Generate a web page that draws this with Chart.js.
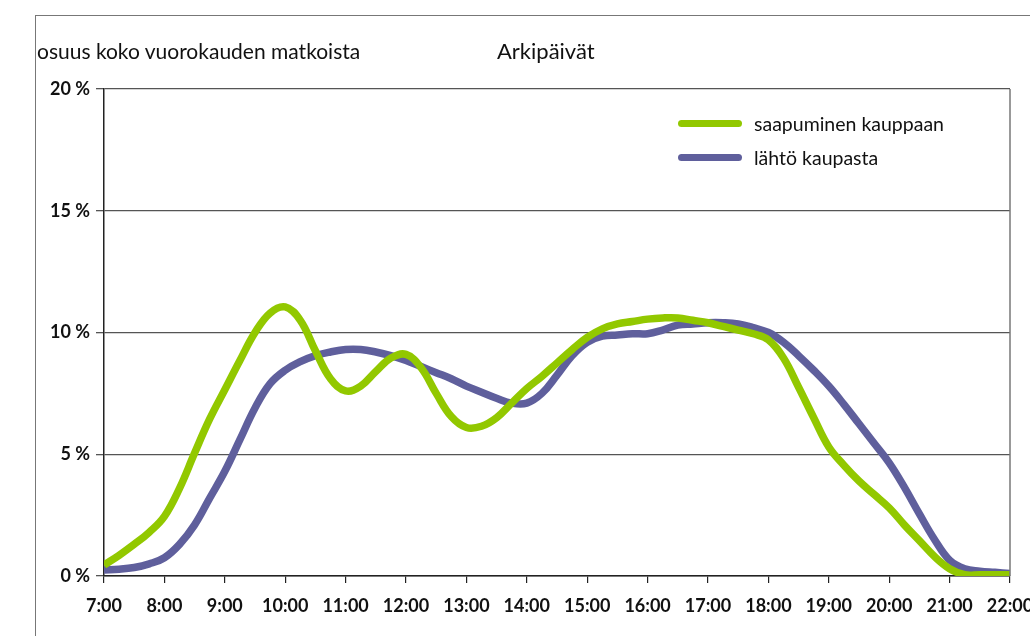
<!DOCTYPE html>
<html>
<head>
<meta charset="utf-8">
<script src="https://cdn.jsdelivr.net/npm/chart.js@4.4.1/dist/chart.umd.min.js"></script>
<style>
  html, body { margin: 0; padding: 0; background: #fff; overflow: hidden; }
  body { width: 1030px; height: 636px; position: relative; font-family: Lato, sans-serif; color: #111; }
  #wrap { position: absolute; left: 0; top: 0; width: 1060px; height: 636px; }
  #frame { position: absolute; left: 35px; top: 15px; width: 1100px; height: 700px; border-left: 1.5px solid #777; border-top: 1.5px solid #777; }
  .txt { position: absolute; font-size: 21px; white-space: nowrap; }
  #legend { position: absolute; left: 678px; top: 106px; font-size: 19.5px; }
  #legend div { height: 34px; display: flex; align-items: center; }
  #legend span.sw { display: inline-block; width: 64px; height: 7px; border-radius: 4px; margin-right: 12px; }
</style>
</head>
<body>
<div id="frame"></div>
<div id="wrap"><canvas id="chart" width="1060" height="636"></canvas></div>
<div class="txt" style="left:37px; top:38px;">osuus koko vuorokauden matkoista</div>
<div class="txt" style="left:497px; top:37px; font-size:22px;">Arkipäivät</div>
<div id="legend">
  <div><span class="sw" style="background:#92c800"></span>saapuminen kauppaan</div>
  <div><span class="sw" style="background:#5f5f9c"></span>lähtö kaupasta</div>
</div>
<script>
// tick labels
let yTicks = [0, 5, 10, 15, 20]
let xTicks = [7, 8, 9, 10, 11, 12, 13, 14, 15, 16, 17, 18, 19, 20, 21, 22]

// quarter-hour time points
let hours = [7, 7.25, 7.5, 7.75, 8, 8.25, 8.5, 8.75, 9, 9.25, 9.5, 9.75,
  10, 10.25, 10.5, 10.75, 11, 11.25, 11.5, 11.75, 12, 12.25, 12.5, 12.75,
  13, 13.25, 13.5, 13.75, 14, 14.25, 14.5, 14.75, 15, 15.25, 15.5, 15.75,
  16, 16.25, 16.5, 16.75, 17, 17.25, 17.5, 17.75, 18, 18.25, 18.5, 18.75,
  19, 19.25, 19.5, 19.75, 20, 20.25, 20.5, 20.75, 21, 21.25, 21.5, 21.75, 22]

// saapuminen kauppaan (green)
let arrivals = [0.45, 0.85, 1.3, 1.8, 2.45, 3.6, 5.05, 6.45, 7.65, 8.85, 10.0, 10.8,
  11.05, 10.5, 9.25, 8.1, 7.6, 7.8, 8.4, 8.95, 9.1, 8.55, 7.5, 6.55,
  6.1, 6.15, 6.5, 7.1, 7.7, 8.2, 8.75, 9.3, 9.8, 10.15, 10.35, 10.45,
  10.55, 10.6, 10.6, 10.5, 10.4, 10.25, 10.1, 9.95, 9.7, 8.95, 7.75, 6.5,
  5.3, 4.55, 3.9, 3.35, 2.8, 2.1, 1.45, 0.8, 0.3, 0.05, 0.05, 0.05, 0.05]

// lähtö kaupasta (purple)
let departures = [0.25, 0.28, 0.35, 0.5, 0.75, 1.3, 2.1, 3.2, 4.3, 5.6, 6.9, 7.9,
  8.45, 8.8, 9.05, 9.2, 9.3, 9.3, 9.2, 9.05, 8.85, 8.6, 8.35, 8.1,
  7.8, 7.55, 7.3, 7.1, 7.1, 7.5, 8.25, 9.05, 9.6, 9.85, 9.9, 9.95,
  9.95, 10.1, 10.3, 10.35, 10.4, 10.4, 10.35, 10.2, 10.0, 9.6, 9.05, 8.45,
  7.8, 7.05, 6.25, 5.45, 4.65, 3.65, 2.55, 1.5, 0.65, 0.3, 0.2, 0.15, 0.1]

function points(xs, ys) {
  let out = Array()
  for (let i = 0; i < xs.length; i++) {
    out.push({ x: xs[i], y: ys[i] })
  }
  return out
}

//Right border of the plot
const frameRight = {
  id: 'frameRight',
  afterDraw(chart) {
    const a = chart.chartArea
    const ctx = chart.ctx
    ctx.save()
    ctx.strokeStyle = '#777'
    ctx.lineWidth = 1.5
    ctx.beginPath()
    ctx.moveTo(a.right, a.top)
    ctx.lineTo(a.right, a.bottom)
    ctx.stroke()
    ctx.restore()
  }
}

new Chart("chart", {
  type: "line",
  data: {
    datasets: [{
      label: 'saapuminen kauppaan',
      data: points(hours, arrivals),
      borderColor: '#92c800',
      borderWidth: 7.5,
      pointRadius: 0,
      tension: 0.4,
      order: 0
    }, {
      label: 'lähtö kaupasta',
      data: points(hours, departures),
      borderColor: '#5f5f9c',
      borderWidth: 7.5,
      pointRadius: 0,
      tension: 0.4,
      order: 1
    }]
  },
  options: {
    responsive: false,
    animation: false,
    layout: { padding: { left: 0, top: 89, right: 50, bottom: 0 } },
    plugins: {
      legend: { display: false },
      tooltip: { enabled: false }
    },
    scales: {
      x: {
        type: 'linear',
        min: 7,
        max: 22,
        afterBuildTicks: (s) => { s.ticks = xTicks.map(v => ({ value: v })) },
        afterFit: (s) => { s.height = 60 },
        ticks: {
          callback: (v) => v + ':00',
          color: '#111',
          font: { family: 'Lato', size: 18, weight: 'bold' },
          padding: 12,
          maxRotation: 0,
          autoSkip: false
        },
        grid: { drawOnChartArea: false, drawTicks: true, tickLength: 7, color: '#222', lineWidth: 1.2 },
        border: { color: '#222', width: 1.5 }
      },
      y: {
        min: 0,
        max: 20,
        afterBuildTicks: (s) => { s.ticks = yTicks.map(v => ({ value: v })) },
        afterFit: (s) => { s.width = 104 },
        ticks: {
          callback: (v) => v + ' %',
          color: '#111',
          font: { family: 'Lato', size: 18, weight: 'bold' },
          padding: 6
        },
        grid: { color: '#555', lineWidth: 1.3, tickLength: 8 },
        border: { color: '#222', width: 1.5 }
      }
    }
  },
  plugins: [frameRight]
});
</script>
</body>
</html>
